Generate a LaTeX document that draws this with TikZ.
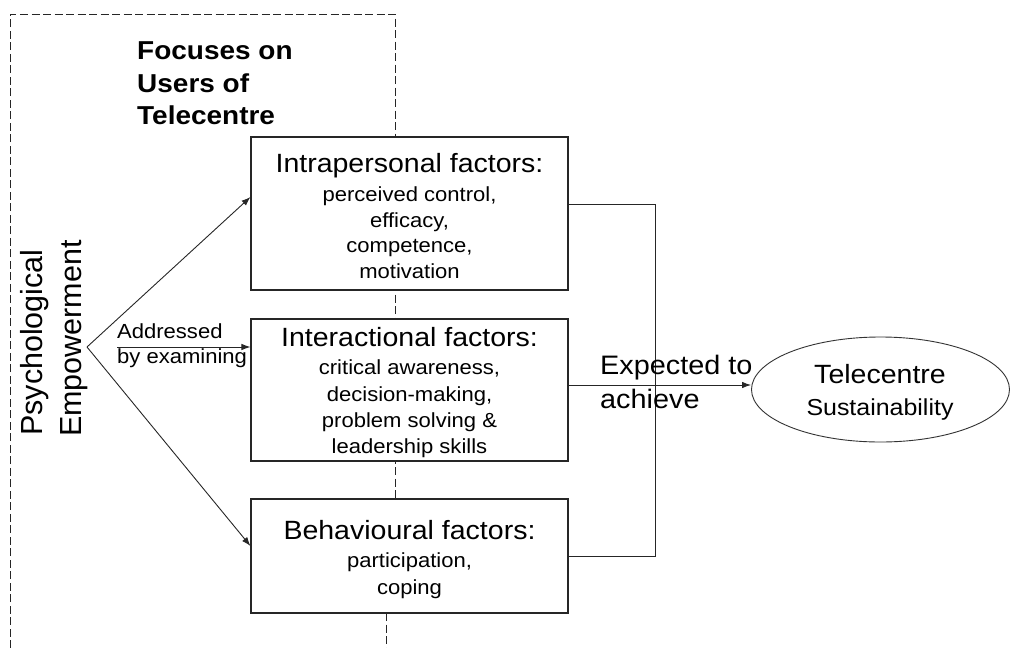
\documentclass[tikz,border=0pt]{standalone}
\usepackage{fontspec}
\setmainfont[FakeStretch=1.08]{Liberation Sans}
\newfontfamily\plainsans{Liberation Sans}
\usetikzlibrary{arrows.meta,shapes.geometric}
\tikzset{
  frameline/.style={draw=black!85, line width=0.9pt, dash pattern=on 8pt off 3.5pt},
  factorbox/.style={draw=black!85, line width=1.1pt, fill=white, inner sep=0pt, minimum width=317pt},
  headtxt/.style={font=\fontsize{26.4}{30}\selectfont, anchor=base, inner sep=0pt},
  subtxt/.style={font=\fontsize{20.4}{24}\selectfont, anchor=base, inner sep=0pt},
  lefttxt/.style={anchor=base west, inner sep=0pt},
  link/.style={draw=black!85, line width=0.9pt},
  arr/.style={link, -{Latex[length=9pt,width=6.5pt]}},
}
\begin{document}
\begin{tikzpicture}[x=1pt,y=-1pt]
\useasboundingbox (0,0) rectangle (1010,648);

% dashed frame
\draw[frameline] (10,648) -- (10,14) -- (395,14) -- (395,499);
\draw[frameline] (386,613) -- (386,648);

% title
\node[lefttxt, font=\bfseries\fontsize{25.9}{30}\selectfont] (t1) at (137,59) {Focuses on};
\node[lefttxt, font=\bfseries\fontsize{25.9}{30}\selectfont] (t2) at (137,92) {Users of};
\node[lefttxt, font=\bfseries\fontsize{25.9}{30}\selectfont] (t3) at (137,124) {Telecentre};

% psychological empowerment
\node[lefttxt, rotate=90, font=\plainsans\fontsize{30.5}{36}\selectfont] (pe1) at (42,436) {Psychological};
\node[lefttxt, rotate=90, font=\plainsans\fontsize{30.5}{36}\selectfont] (pe2) at (81,437) {Empowerment};

% boxes
\node[factorbox, minimum height=153pt] (b1) at (409.5,213.5) {};
\node[factorbox, minimum height=142pt] (b2) at (409.5,390) {};
\node[factorbox, minimum height=114pt] (b3) at (409.5,556) {};

\node[headtxt] (b1h) at (409.5,172) {Intrapersonal factors:};
\node[subtxt] (b1a) at (409.5,201) {perceived control,};
\node[subtxt] (b1b) at (409.5,227) {efficacy,};
\node[subtxt] (b1c) at (409.5,252) {competence,};
\node[subtxt] (b1d) at (409.5,278) {motivation};

\node[headtxt] (b2h) at (409.5,346) {Interactional factors:};
\node[subtxt] (b2a) at (409.5,374) {critical awareness,};
\node[subtxt] (b2b) at (409.5,401) {decision-making,};
\node[subtxt] (b2c) at (409.5,427) {problem solving \&};
\node[subtxt] (b2d) at (409.5,453) {leadership skills};

\node[headtxt] (b3h) at (409.5,539) {Behavioural factors:};
\node[subtxt] (b3a) at (409.5,567) {participation,};
\node[subtxt] (b3b) at (409.5,594) {coping};

% ellipse
\node[ellipse, draw=black!80, line width=0.9pt, fill=white, minimum width=258pt, minimum height=105pt, inner sep=0pt] (ell) at (880.5,389.5) {};
\node[headtxt] (e1) at (880,383) {Telecentre};
\node[subtxt, font=\fontsize{23.1}{27}\selectfont] (e2) at (880,415) {Sustainability};

% left arrows
\coordinate (apex) at (87,347);
\coordinate (midstart) at (117,347);
\draw[arr] (apex) -- ([yshift=16.5pt]b1.west);
\draw[arr] (apex) -- ([yshift=10pt]b3.west);
\draw[arr] (midstart) -- ([yshift=43pt]b2.west);
\node[lefttxt, font=\fontsize{20.4}{24}\selectfont] (ad1) at (117,338) {Addressed};
\node[lefttxt, font=\fontsize{20.4}{24}\selectfont] (ad2) at (117,363) {by examining};

% right connectors
\coordinate (j1) at (655,204);
\coordinate (j3) at (655,556);
\draw[link] ([yshift=9.5pt]b1.east) -- (j1) -- (j3) -- (b3.east);
\draw[arr] ([yshift=5pt]b2.east) -- ([yshift=5pt]b2.east -| ell.west);
\node[lefttxt, font=\fontsize{26.7}{30}\selectfont] (ex1) at (600,374) {Expected to};
\node[lefttxt, font=\fontsize{26.7}{30}\selectfont] (ex2) at (600,408) {achieve};
\end{tikzpicture}
\end{document}
